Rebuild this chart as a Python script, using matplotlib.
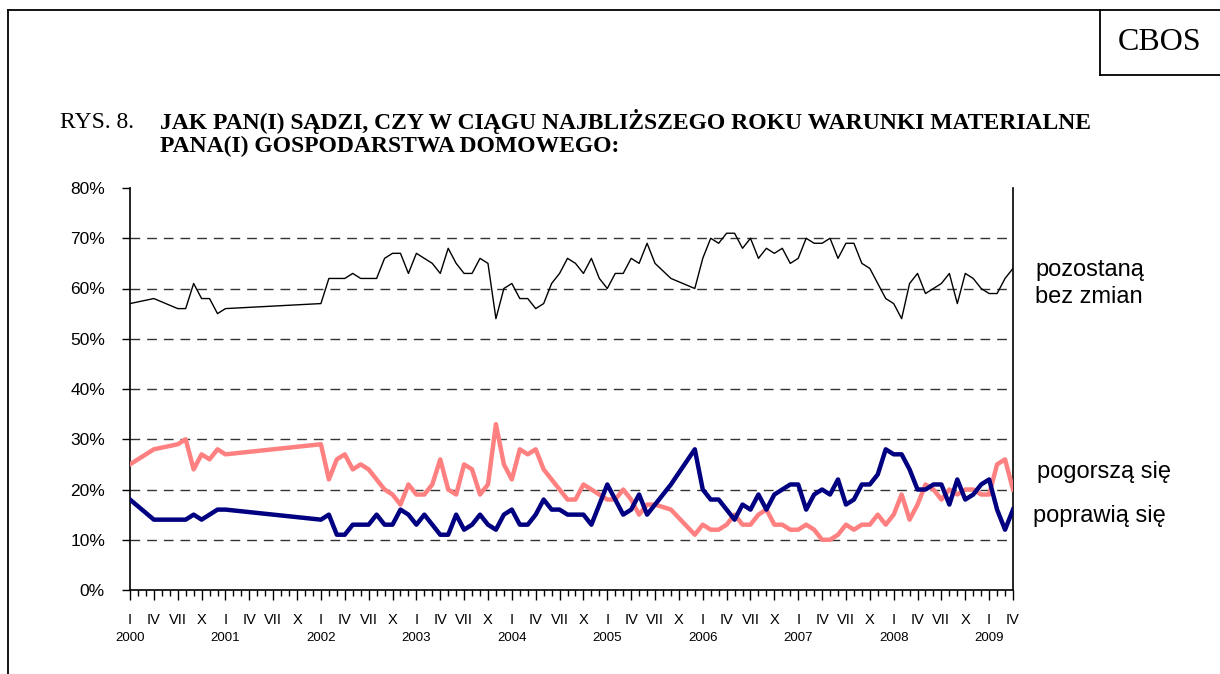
import matplotlib
matplotlib.use("Agg")
import matplotlib.pyplot as plt
from matplotlib.lines import Line2D

# months since January 2000 (surveys)
months = [0, 3, 6, 7, 8, 9, 10, 11, 12,
          24, 25, 26, 27, 28, 29, 30, 31, 32, 33, 34, 35,
          36, 37, 38, 39, 40, 41, 42, 43, 44, 45, 46, 47,
          48, 49, 50, 51, 52, 53, 54, 55, 56, 57, 58, 59,
          60, 61, 62, 63, 64, 65, 66, 68, 71,
          72, 73, 74, 75, 76, 77, 78, 79, 80, 81, 82, 83,
          84, 85, 86, 87, 88, 89, 90, 91, 92, 93, 94, 95,
          96, 97, 98, 99, 100, 101, 102, 103, 104, 105, 106, 107,
          108, 109, 110, 111]

bez_zmian = [57, 58, 56, 56, 61, 58, 58, 55, 56,
             57, 62, 62, 62, 63, 62, 62, 62, 66, 67, 67, 63,
             67, 66, 65, 63, 68, 65, 63, 63, 66, 65, 54, 60,
             61, 58, 58, 56, 57, 61, 63, 66, 65, 63, 66, 62,
             60, 63, 63, 66, 65, 69, 65, 62, 60,
             66, 70, 69, 71, 71, 68, 70, 66, 68, 67, 68, 65,
             66, 70, 69, 69, 70, 66, 69, 69, 65, 64, 61, 58,
             57, 54, 61, 63, 59, 60, 61, 63, 57, 63, 62, 60,
             59, 59, 62, 64]

pogorsza = [25, 28, 29, 30, 24, 27, 26, 28, 27,
            29, 22, 26, 27, 24, 25, 24, 22, 20, 19, 17, 21,
            19, 19, 21, 26, 20, 19, 25, 24, 19, 21, 33, 25,
            22, 28, 27, 28, 24, 22, 20, 18, 18, 21, 20, 19,
            18, 18, 20, 18, 15, 17, 17, 16, 11,
            13, 12, 12, 13, 15, 13, 13, 15, 16, 13, 13, 12,
            12, 13, 12, 10, 10, 11, 13, 12, 13, 13, 15, 13,
            15, 19, 14, 17, 21, 20, 18, 20, 19, 20, 20, 19,
            19, 25, 26, 20]

poprawia = [18, 14, 14, 14, 15, 14, 15, 16, 16,
            14, 15, 11, 11, 13, 13, 13, 15, 13, 13, 16, 15,
            13, 15, 13, 11, 11, 15, 12, 13, 15, 13, 12, 15,
            16, 13, 13, 15, 18, 16, 16, 15, 15, 15, 13, 17,
            21, 18, 15, 16, 19, 15, 17, 21, 28,
            20, 18, 18, 16, 14, 17, 16, 19, 16, 19, 20, 21,
            21, 16, 19, 20, 19, 22, 17, 18, 21, 21, 23, 28,
            27, 27, 24, 20, 20, 21, 21, 17, 22, 18, 19, 21,
            22, 16, 12, 16]

quarter_labels = ["I", "IV", "VII", "X"]
years = list(range(2000, 2010))
y_ticks = [0, 10, 20, 30, 40, 50, 60, 70, 80]

W, H = 1220, 674
fig = plt.figure(figsize=(W / 100, H / 100), dpi=100)
ax = fig.add_axes([130 / W, 1 - 590 / H, (1013 - 130) / W, (590 - 188) / H])

for y in y_ticks[1:-1]:
    ax.axhline(y, color="#333333", lw=1, ls=(0, (7, 5)), zorder=1)

ax.plot(months, bez_zmian, color="black", lw=1, zorder=3)
ax.plot(months, pogorsza, color="#FF8080", lw=3.2, zorder=3)
ax.plot(months, poprawia, color="#000080", lw=3.2, zorder=4)

ax.set_xlim(0, 111)
ax.set_ylim(0, 80)
ax.set_yticks(y_ticks)
ax.set_yticklabels([f"{v}%" for v in y_ticks], fontsize=12.5, family="Liberation Sans")
ax.tick_params(axis="y", length=6, width=1, pad=12)

ax.set_xticks(range(0, 112, 3))
ax.set_xticks(range(0, 112), minor=True)
ax.set_xticklabels([])
ax.tick_params(axis="x", which="major", length=7, width=1)
ax.tick_params(axis="x", which="minor", length=4, width=1)
for q in range(0, 112, 3):
    ax.text(q, -6.0, quarter_labels[(q // 3) % 4], ha="center", va="center",
            fontsize=10.5, family="Liberation Sans")
for i, yr in enumerate(years):
    ax.text(i * 12, -9.5, str(yr), ha="center", va="center",
            fontsize=9.5, family="Liberation Sans")

ax.spines["top"].set_visible(False)
for s in ("left", "bottom", "right"):
    ax.spines[s].set_linewidth(1.2)

# series labels
lab = dict(fontsize=17, family="Liberation Sans", ha="left", va="center")
fig.text(1035 / W, 1 - 270 / H, "pozostaną", **lab)
fig.text(1035 / W, 1 - 297 / H, "bez zmian", **lab)
fig.text(1037 / W, 1 - 472 / H, "pogorszą się", **lab)
fig.text(1033 / W, 1 - 516 / H, "poprawią się", **lab)

# title
fig.text(60 / W, 1 - 122 / H, "RYS. 8.", fontsize=17, family="Liberation Serif",
         ha="left", va="center")
fig.text(160 / W, 1 - 122 / H,
         "JAK PAN(I) SĄDZI, CZY W CIĄGU NAJBLIŻSZEGO ROKU WARUNKI MATERIALNE",
         fontsize=17, family="Liberation Serif", weight="bold", ha="left", va="center")
fig.text(160 / W, 1 - 146 / H, "PANA(I) GOSPODARSTWA DOMOWEGO:",
         fontsize=17, family="Liberation Serif", weight="bold", ha="left", va="center")

# page frame and CBOS box
frame = [((8, 8), (10, H)), ((8, W), (10, 10)),
         ((1100, 1100), (10, 75)), ((1100, W), (75, 75))]
for xs, ys in frame:
    fig.add_artist(Line2D([x / W for x in xs], [1 - y / H for y in ys],
                          color="black", lw=1.3))
fig.text(1160 / W, 1 - 42 / H, "CBOS", fontsize=23, family="Liberation Serif",
         ha="center", va="center")

fig.savefig("out.png", dpi=100)
